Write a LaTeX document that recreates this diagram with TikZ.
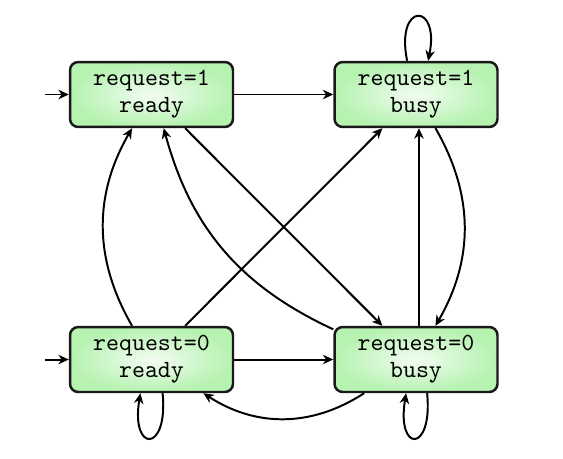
\documentclass[tikz,border=0pt]{standalone}
\usetikzlibrary{arrows.meta}
\definecolor{boxouter}{RGB}{182,242,176}
\definecolor{boxinner}{RGB}{242,253,242}
\tikzset{
  state/.style={draw=black!90, line width=1pt, rounded corners=3.3pt,
    minimum width=66pt, minimum height=26.3pt, inner sep=1pt,
    shade, inner color=boxinner, outer color=boxouter,
    align=center, font=\ttfamily\fontsize{10}{11}\selectfont},
  edgeline/.style={line width=0.8pt, -{Stealth[length=4.2pt,width=3.8pt,inset=1.3pt]}}
}
\begin{document}
\begin{tikzpicture}[x=0.405pt,y=-0.405pt]
\useasboundingbox (0,0) rectangle (563,458);
\node[state] (A) at (151.5,94.5) {request=1\\ready};
\node[state] (B) at (416,94.5) {request=1\\busy};
\node[state] (C) at (151.5,359.5) {request=0\\ready};
\node[state] (D) at (416,359.5) {request=0\\busy};
\coordinate (a0) at (45,94.5);
\coordinate (c0) at (45,359.5);
\draw[edgeline] (a0) -- (A);
\draw[edgeline] (c0) -- (C);
\draw[edgeline] (A) -- (B);
\draw[edgeline] (C) -- (D);
\draw[edgeline] (A) -- (D);
\draw[edgeline] (C) -- (B);
\draw[edgeline] ([xshift=1.2pt]D.north) -- ([xshift=1.2pt]B.south);
\draw[edgeline] (C) to[bend left=30] (A);
\draw[edgeline] (B) to[bend left=30] (D);
\draw[edgeline] (D) to[bend left=25] (A);
\draw[edgeline] (D) to[bend left=33] (C);
% self loops
\draw[edgeline] ([xshift=-3.6pt]B.north) .. controls +(-12,-59) and +(12,-59) .. ([xshift=4.9pt]B.north);
\draw[edgeline] ([xshift=4.5pt]C.south) .. controls +(6,60) and +(-10,60) .. ([xshift=-4.5pt]C.south);
\draw[edgeline] ([xshift=4.5pt]D.south) .. controls +(6,60) and +(-10,60) .. ([xshift=-4pt]D.south);
\end{tikzpicture}
\end{document}
